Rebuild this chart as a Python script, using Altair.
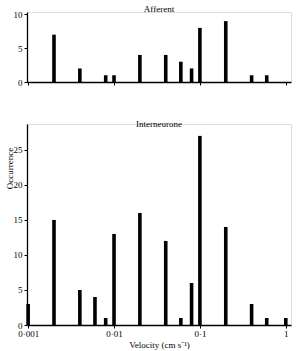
import altair as alt
import pandas as pd

# Velocity bins (cm s^-1) and counts for each recording
afferent_velocity = [0.002, 0.004, 0.008, 0.01, 0.02, 0.04, 0.06, 0.08, 0.1, 0.2, 0.4, 0.6]
afferent_count = [7, 2, 1, 1, 4, 4, 3, 2, 8, 9, 1, 1]

inter_velocity = [0.001, 0.002, 0.004, 0.006, 0.008, 0.01, 0.02, 0.04, 0.06, 0.08, 0.1, 0.2, 0.4, 0.6, 1.0]
inter_count = [3, 15, 5, 4, 1, 13, 16, 12, 1, 6, 27, 14, 3, 1, 1]

decade_ticks = [0.001, 0.01, 0.1, 1]

FONT = "Liberation Serif"
W = 264

aff = pd.DataFrame({"v": afferent_velocity, "n": afferent_count})
inter = pd.DataFrame({"v": inter_velocity, "n": inter_count})

xscale = alt.Scale(type="log", domain=[0.00097, 1.15], nice=False)


def panel(df, title, ymax, yticks, height, show_x_labels, title_offset):
    x_axis = alt.Axis(
        values=decade_ticks,
        labels=show_x_labels,
        labelExpr="replace(format(datum.value, '~g'), '.', '·')",
        title="Velocity (cm s⁻¹)" if show_x_labels else None,
        grid=False,
        tickSize=3,
        labelFont=FONT,
        labelFontSize=9,
        labelColor="black",
        titleFont=FONT,
        titleFontSize=9,
        titleFontWeight="normal",
        titleColor="black",
        titlePadding=2,
        domainColor="black",
        domainWidth=1.3,
        tickColor="black",
        labelPadding=1,
    )
    y_axis = alt.Axis(
        values=yticks,
        grid=False,
        tickSize=3,
        labelFont=FONT,
        labelFontSize=9,
        labelColor="black",
        domainColor="black",
        domainWidth=1.3,
        tickColor="black",
        labelPadding=2,
        title="Occurrence" if show_x_labels else None,
        titleFont=FONT,
        titleFontSize=9,
        titleFontWeight="normal",
        titleColor="black",
        titleY=44,
        titleX=-13,
    )
    return (
        alt.Chart(df)
        .mark_rule(strokeWidth=3.6, color="black", strokeCap="butt")
        .encode(
            x=alt.X("v:Q", scale=xscale, axis=x_axis),
            y=alt.Y("n:Q", scale=alt.Scale(domain=[0, ymax], nice=False), axis=y_axis),
            y2=alt.Y2(datum=0),
        )
        .properties(
            width=W,
            height=height,
            title=alt.TitleParams(
                title, font=FONT, fontSize=9, fontWeight="normal", color="black",
                offset=title_offset,
            ),
        )
    )


top = panel(aff, "Afferent", 10.35, [0, 5, 10], 70, False, -4)
bottom = panel(inter, "Interneurone", 28.7, [0, 5, 10, 15, 20, 25], 201, True, -5)

chart = (
    alt.vconcat(top, bottom, spacing=31)
    .properties(padding={"left": 4, "top": 4, "right": 5, "bottom": 0})
    .configure_view(stroke=None)
    .configure(background="white")
)

chart.save("out.html", embed_options={"renderer": "svg", "actions": False})
